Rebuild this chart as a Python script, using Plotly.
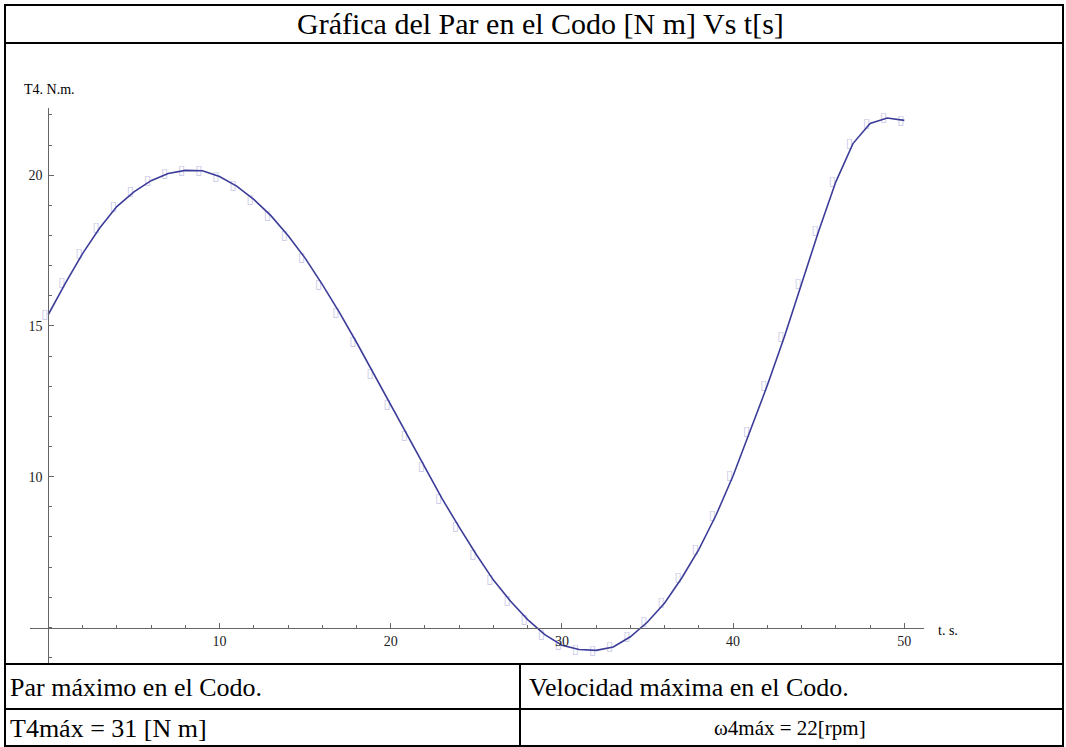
import plotly.graph_objects as go

# datos
t_s = list(range(0, 51))
par_codo = [15.38, 16.42, 17.40, 18.25, 18.96, 19.45, 19.82, 20.06, 20.16, 20.15,
            19.96, 19.64, 19.20, 18.66, 18.00, 17.25, 16.38, 15.45, 14.46, 13.43,
            12.40, 11.35, 10.32, 9.27, 8.33, 7.42, 6.57, 5.87, 5.26, 4.76,
            4.41, 4.27, 4.24, 4.35, 4.69, 5.18, 5.81, 6.64, 7.59, 8.72,
            10.03, 11.50, 13.03, 14.65, 16.41, 18.15, 19.78, 21.05, 21.72, 21.90, 21.82]
x_ticks = [10, 20, 30, 40, 50]
y_ticks = [10, 15, 20]

W, H = 1066, 747
SERIF = "Liberation Serif, Times New Roman, serif"
AXIS_GRAY = "#666666"


def px(x):
    return x / W


def py(y):
    return 1 - y / H


fig = go.Figure()

# the little empty glyph boxes next to each point
fig.add_trace(go.Scatter(
    x=t_s, y=par_codo, mode="text",
    text=["\u25af"] * len(t_s),
    textposition="middle left",
    textfont=dict(family="DejaVu Sans", size=13, color="#c6c6e4"),
    hoverinfo="skip", showlegend=False,
))
fig.add_trace(go.Scatter(
    x=t_s, y=par_codo, mode="lines",
    line=dict(color="#3d3d99", width=1.6),
    showlegend=False,
))

fig.update_xaxes(
    range=[-1.07, 51.15], domain=[px(30), px(924)],
    anchor="free", position=py(628),
    showline=True, linecolor=AXIS_GRAY, linewidth=1,
    showgrid=False, zeroline=False,
    ticks="inside", ticklen=5, tickcolor=AXIS_GRAY, tickwidth=1,
    tickvals=x_ticks, ticktext=[str(v) for v in x_ticks],
    minor=dict(ticks="inside", ticklen=3, dtick=2, tick0=0, tickcolor=AXIS_GRAY, showgrid=False),
    tickfont=dict(family=SERIF, size=14, color="#222222"),
)
fig.update_yaxes(
    range=[3.82, 22.23], domain=[py(663), py(108)],
    anchor="free", position=px(48.3),
    showline=True, linecolor=AXIS_GRAY, linewidth=1,
    showgrid=False, zeroline=False,
    ticks="inside", ticklen=5, tickcolor=AXIS_GRAY, tickwidth=1,
    tickvals=y_ticks, ticktext=[str(v) for v in y_ticks],
    ticklabelstandoff=3,
    minor=dict(ticks="inside", ticklen=3, dtick=1, tick0=0, tickcolor=AXIS_GRAY, showgrid=False),
    tickfont=dict(family=SERIF, size=14, color="#222222"),
)

# bordes de la tabla del documento
border = dict(color="black", width=2)
shapes = [
    dict(type="rect", xref="paper", yref="paper", x0=px(5), x1=px(1063), y0=py(746), y1=py(5), line=border),
    dict(type="line", xref="paper", yref="paper", x0=px(5), x1=px(1063), y0=py(43), y1=py(43), line=border),
    dict(type="line", xref="paper", yref="paper", x0=px(5), x1=px(1063), y0=py(664), y1=py(664), line=border),
    dict(type="line", xref="paper", yref="paper", x0=px(5), x1=px(1063), y0=py(709), y1=py(709), line=border),
    dict(type="line", xref="paper", yref="paper", x0=px(520), x1=px(520), y0=py(664), y1=py(746), line=border),
]


def note(text, x, y, size, xanchor="left"):
    return dict(text=text, x=px(x), y=py(y), xref="paper", yref="paper",
                xanchor=xanchor, yanchor="middle", showarrow=False,
                font=dict(family=SERIF, size=size, color="black"))


annotations = [
    note("Gráfica del Par en el Codo [N m] Vs t[s]", 540, 24, 30, "center"),
    note("T4. N.m.", 22, 90, 14),
    note("t. s.", 936, 630, 14),
    note("Par máximo en el Codo.", 8, 687, 26),
    note("Velocidad máxima en el Codo.", 527, 687, 26),
    note("T4máx = 31 [N m]", 8, 728, 26),
    note("\u03c94máx = 22[rpm]", 790, 728, 21, "center"),
]

fig.update_layout(
    width=W, height=H,
    margin=dict(l=0, r=0, t=0, b=0, pad=0),
    paper_bgcolor="white", plot_bgcolor="white",
    shapes=shapes, annotations=annotations,
    showlegend=False,
)

# the page body has a default 8px margin; drop it so the figure sits at the corner
fig.write_html("out.html", config={"displayModeBar": False},
               post_script="document.body.style.margin='0px';")
